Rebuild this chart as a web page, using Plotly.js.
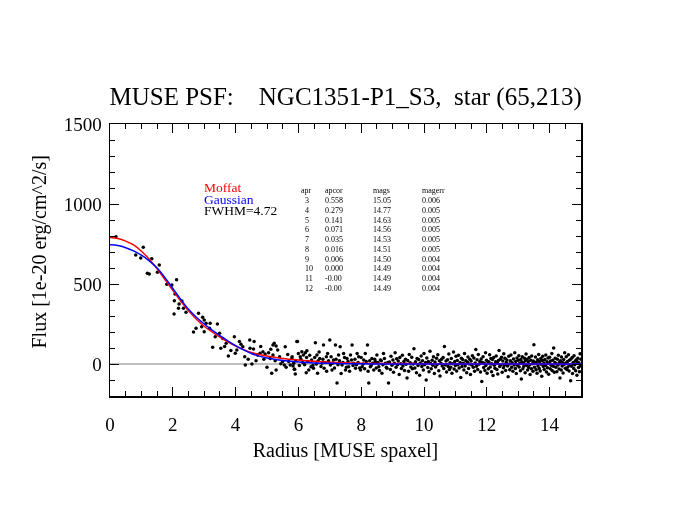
<!DOCTYPE html>
<html>
<head>
<meta charset="utf-8">
<script src="https://cdn.plot.ly/plotly-3.0.1.min.js"></script>
<style>
html,body{margin:0;padding:0;background:#fff;}
#chart{width:675px;height:521px;will-change:transform;}
#chart g.annotation{opacity:0.999;}
</style>
</head>
<body>
<div id="chart"></div>
<script>
// ---- data: inner profile samples [radius, flux] ----
const coreSamples = [
[0.19,796],[0.82,681],[0.98,662],[1.06,729],[1.33,658],[1.19,567],[1.25,562],[1.57,619],[1.51,573],[1.81,498],
[1.97,494],[2.12,527],[2.07,437],[2.05,396],[2.2,375],[2.29,394],[2.18,348],[2.34,348],[2.42,323],[2.04,312],
[2.82,317],[2.95,292],[2.74,223],[2.66,200],[2.92,233],[3.0,275],[3.06,254],[3.0,202],[3.19,254],[3.17,223],
[3.42,250],[3.35,171],[3.49,192],[3.59,160],[3.27,104],[3.53,98],[3.96,171],[4.12,140],[4.17,123],[4.04,88],
[3.99,67],[3.77,50],[4.29,46],[4.23,108],[4.31,-6],[4.45,150],[4.59,140],[4.46,98],[4.57,94],[4.52,0],
[4.7,56],[4.78,67],[4.87,77],[4.94,62],[5.05,71],[5.12,92],[5.19,119],[5.23,129],[5.29,113],[5.34,88],
[5.19,56],[5.1,35],[5.26,21],[5.4,46],[5.29,-38],[5.15,-58],[5.44,2],[5.5,15],[5.55,-6],[5.61,-21],
[5.69,15],[5.74,-6],[5.83,-13],[5.88,-33],[5.95,140],[5.58,108],[5.66,60],[3.7,130],[3.85,85],[4.4,30],
[4.65,20],[4.9,30],[5.0,-20],[4.8,110],[3.65,110]
];
// ---- data: middle profile samples [radius, flux] ----
const midSamples = [
[5.79,35],[5.85,4],[5.87,-33],[5.9,-63],[5.97,140],[6.0,65],[6.06,46],[6.11,77],[6.16,56],[6.22,71],
[6.27,83],[6.25,-54],[6.33,-38],[6.4,-17],[6.48,-27],[6.54,133],[6.59,56],[6.61,-58],[6.68,35],[6.75,4],
[6.8,119],[6.82,-27],[6.89,46],[6.93,65],[7.0,150],[7.02,-6],[7.07,-38],[7.12,25],[7.18,119],[7.23,-119],
[7.28,56],[7.33,108],[7.39,-6],[7.44,65],[7.5,-38],[7.55,35],[7.6,-17],[7.66,56],[7.71,119],[7.76,4],
[7.82,-27],[7.87,65],[7.92,46],[7.98,-38],[8.03,-17],[8.08,25],[8.13,65],[8.2,119],[8.24,-119],[8.29,-17],
[8.34,35],[8.4,-38],[8.45,15],[8.5,56],[8.56,-17],[8.61,25],[8.66,-58],[8.71,65],[8.77,4],[8.82,-27],
[8.87,-119],[5.8,45],[5.92,20],[6.03,-10],[6.08,30],[6.14,10],[6.2,-5],[6.26,40],[6.3,15],[6.36,55],
[6.42,25],[6.46,-10],[6.52,40],[6.57,0],[6.63,20],[6.66,75],[6.72,-15],[6.78,30],[6.85,10],[6.9,-45],
[6.96,20],[7.04,45],[7.09,5],[7.15,-25],[7.2,30],[7.26,-5],[7.31,20],[7.36,-60],[7.42,10],[7.47,40],
[7.53,-20],[7.58,15],[7.63,-45],[7.69,25],[7.74,-10],[7.8,30],[7.85,-5],[7.9,10],[7.95,-25],[8.0,40],
[8.06,0],[8.11,-30],[8.16,15],[8.22,-45],[8.27,20],[8.32,-10],[8.37,5],[8.43,30],[8.48,-25],[8.53,10],
[8.58,-40],[8.64,20],[8.69,-5],[8.74,35],[8.8,-20],[8.85,10]
];
// ---- data: outer profile (radius and flux) ----
const tailRadius = [
8.90,8.93,8.95,8.98,9.01,9.03,9.06,9.08,9.11,9.13,
9.16,9.18,9.21,9.23,9.26,9.28,9.31,9.33,9.36,9.38,
9.41,9.43,9.46,9.48,9.51,9.53,9.56,9.58,9.61,9.63,
9.66,9.68,9.71,9.73,9.76,9.78,9.81,9.83,9.86,9.88,
9.91,9.93,9.95,9.98,10.00,10.02,10.05,10.07,10.09,10.12,
10.14,10.16,10.19,10.21,10.23,10.26,10.28,10.30,10.33,10.35,
10.37,10.40,10.42,10.44,10.47,10.49,10.51,10.54,10.56,10.58,
10.61,10.63,10.65,10.68,10.70,10.72,10.75,10.77,10.79,10.81,
10.83,10.85,10.87,10.89,10.91,10.94,10.96,10.98,11.00,11.02,
11.04,11.06,11.08,11.10,11.12,11.15,11.17,11.19,11.21,11.23,
11.25,11.27,11.29,11.31,11.33,11.36,11.38,11.40,11.42,11.44,
11.46,11.48,11.50,11.52,11.54,11.57,11.59,11.61,11.63,11.65,
11.67,11.69,11.71,11.73,11.75,11.78,11.80,11.82,11.84,11.86,
11.88,11.90,11.92,11.94,11.96,11.97,11.99,12.01,12.03,12.05,
12.07,12.09,12.11,12.13,12.15,12.16,12.18,12.20,12.22,12.24,
12.26,12.28,12.30,12.32,12.34,12.35,12.37,12.39,12.41,12.43,
12.45,12.47,12.49,12.51,12.53,12.54,12.56,12.58,12.60,12.62,
12.64,12.66,12.68,12.70,12.72,12.73,12.75,12.77,12.79,12.81,
12.83,12.85,12.87,12.89,12.91,12.92,12.94,12.96,12.98,13.00,
13.02,13.03,13.05,13.07,13.08,13.10,13.12,13.13,13.15,13.17,
13.18,13.20,13.22,13.23,13.25,13.27,13.28,13.30,13.32,13.33,
13.35,13.37,13.38,13.40,13.42,13.43,13.45,13.47,13.48,13.50,
13.52,13.53,13.55,13.57,13.58,13.60,13.62,13.63,13.65,13.67,
13.68,13.70,13.72,13.73,13.75,13.77,13.78,13.80,13.82,13.83,
13.85,13.87,13.88,13.90,13.92,13.93,13.95,13.97,13.98,14.00,
14.02,14.03,14.05,14.07,14.08,14.10,14.12,14.13,14.15,14.17,
14.18,14.20,14.22,14.23,14.25,14.27,14.28,14.30,14.32,14.33,
14.35,14.37,14.38,14.40,14.42,14.43,14.45,14.47,14.48,14.50,
14.52,14.53,14.55,14.57,14.58,14.60,14.62,14.63,14.65,14.67,
14.68,14.70,14.72,14.73,14.75,14.77,14.78,14.80,14.82,14.83,
14.85,14.87,14.88,14.90,14.92,14.93,14.95,14.97,14.98,15.00
];
const tailFlux = [
12,-35,48,-8,25,-52,5,70,-20,33,
-5,18,-65,40,2,-28,55,-12,15,-40,
30,-2,-88,22,-45,60,8,-18,42,-30,
0,95,-25,14,-55,35,-10,28,-70,6,
50,-15,20,-38,65,-5,10,-100,38,-22,
16,-48,80,3,-30,24,-8,45,-60,12,
-18,36,-3,58,-42,20,-75,5,30,-12,
40,-28,110,-6,18,-50,26,-15,62,-35,
8,-20,34,-58,2,75,-32,15,-9,48,
-44,22,-4,54,-25,10,-85,36,-16,28,
4,-38,66,-12,20,-55,12,44,-28,0,
30,-65,18,-6,52,-20,38,-45,7,90,
-14,26,-35,60,-2,15,-50,32,-110,10,
45,-22,5,-40,70,-10,24,-58,16,-30,
12,58,-18,35,-48,2,28,-72,40,-8,
-26,14,50,-34,6,-62,22,84,-15,30,
-4,42,-52,18,-24,64,-8,36,-40,10,
25,-12,-80,48,0,-36,20,56,-20,8,
-45,32,-6,70,-28,15,-60,38,-10,24,
52,-18,4,-42,28,-94,12,46,-30,6,
-14,36,-55,20,62,-8,30,-38,14,-22,
40,-4,-66,24,-30,50,2,-46,18,120,
-20,8,44,-36,12,-58,26,-12,60,-28,
16,-44,34,-2,-76,22,48,-16,6,-34,
28,-10,56,-50,14,-24,38,-64,4,42,
-30,18,-8,66,-40,24,-14,100,-52,10,
36,-20,2,-48,30,-6,54,-32,12,-88,
20,-38,44,-12,8,-56,28,-2,70,-26,
6,46,-34,16,-18,58,-44,24,-8,-105,
32,-14,40,-60,10,-28,52,-4,18,-42,
26,-70,14,36,-22,8,-48,64,-12,30
];
// ---- data: fitted model curves ----
const curveRadius = [0,0.25,0.5,0.75,1,1.25,1.5,1.75,2,2.25,2.5,2.75,3,3.25,3.5,3.75,4,4.5,5,5.5,6,6.5,7,8,9,10,11,12,13,14,15];
const moffatFlux  = [790,784,768,744,705,655,595,528,460,394,332,280,236,200,168,138,112,72,50,35,25,17,11,5,3,2,1,1,0.5,0.5,0];
const gaussFlux   = [745,740,727,707,680,645,600,540,472,405,342,292,250,212,178,145,115,66,37,22,13,7,4,1,0,0,0,0,0,0,0];
const zeroX = [0,15];
const zeroY = [0,0];
// ---- data: labels / table ----
const titleText = 'MUSE PSF:\u00A0\u00A0\u00A0\u00A0NGC1351-P1_S3,\u00A0\u00A0star (65,213)';
const xTitleText = 'Radius [MUSE spaxel]';
const yTitleText = 'Flux [1e-20 erg/cm^2/s]';
const legendLabels = ['Moffat','Gaussian','FWHM=4.72'];
const tableHeader = ['apr','apcor','mags','magerr'];
const aprValues   = ['3','4','5','6','7','8','9','10','11','12'];
const apcorValues = ['0.558','0.279','0.141','0.071','0.035','0.016','0.006','0.000','-0.00','-0.00'];
const magsValues  = ['15.05','14.77','14.63','14.56','14.53','14.51','14.50','14.49','14.49','14.49'];
const magerrValues= ['0.006','0.005','0.005','0.005','0.005','0.005','0.004','0.004','0.004','0.004'];

const allSamples = coreSamples.concat(midSamples);
const radius = allSamples.map(p => p[0]).concat(tailRadius);
const flux = allSamples.map(p => p[1]).concat(tailFlux);

const serif = 'Liberation Serif, Times New Roman, serif';

const traces = [
  {x: zeroX, y: zeroY, mode: 'lines', line: {color: '#808080', width: 1}, hoverinfo: 'skip'},
  {x: radius, y: flux, mode: 'markers', marker: {color: '#000', size: 3.5}},
  {x: curveRadius, y: moffatFlux, mode: 'lines', line: {color: '#ff0000', width: 1.5, shape: 'spline'}},
  {x: curveRadius, y: gaussFlux, mode: 'lines', line: {color: '#0000ff', width: 1.5, shape: 'spline'}}
];

const annotations = [];
// y-axis title, placed as in the reference (slightly above the plot centre)
annotations.push({
  x: (38.5 - 110) / 471, y: (396 - 252) / 272, xref: 'paper', yref: 'paper', text: yTitleText,
  textangle: -90, showarrow: false, xanchor: 'center', yanchor: 'middle', borderpad: 0,
  font: {family: serif, size: 20, color: '#000'}
});
const legendColors = ['#ff0000','#0000ff','#000000'];
const legendY = [1103, 1030, 957];
legendLabels.forEach((t, i) => annotations.push({
  x: 2.96, y: legendY[i], xref: 'x', yref: 'y', text: t, showarrow: false,
  xanchor: 'left', yanchor: 'middle', borderpad: 0, font: {family: serif, size: 13.5, color: legendColors[i]}
}));
const colX = [6.05, 6.83, 8.33, 9.89];
const valX = [6.18, 6.83, 8.33, 9.89];
tableHeader.forEach((t, i) => annotations.push({
  x: colX[i], y: 1087, xref: 'x', yref: 'y', text: t, showarrow: false,
  xanchor: 'left', yanchor: 'middle', borderpad: 0, font: {family: serif, size: 8, color: '#000'}
}));
const cols = [aprValues, apcorValues, magsValues, magerrValues];
cols.forEach((col, c) => col.forEach((t, r) => annotations.push({
  x: valX[c], y: 1020 - 60.8 * r, xref: 'x', yref: 'y', text: t, showarrow: false,
  xanchor: 'left', yanchor: 'middle', borderpad: 0, font: {family: serif, size: 8, color: '#000'}
})));

const axisCommon = {
  showline: true, linecolor: '#000', linewidth: 1.5, mirror: 'ticks',
  ticks: 'inside', ticklen: 9, tickwidth: 1, tickcolor: '#000',
  showgrid: false, zeroline: false,
  tickfont: {family: serif, size: 19, color: '#000'}
};

const layout = {
  width: 675, height: 521,
  margin: {l: 110, r: 94, t: 124, b: 125},
  paper_bgcolor: '#fff', plot_bgcolor: '#fff',
  showlegend: false,
  title: {text: titleText, font: {family: serif, size: 25, color: '#000'},
          xref: 'container', x: 0.512, xanchor: 'center', yref: 'container', y: 1 - 96/521, yanchor: 'middle'},
  xaxis: Object.assign({}, axisCommon, {
    range: [0, 15], tickmode: 'linear', tick0: 0, dtick: 2, ticklabelstandoff: 11,
    minor: {ticks: 'inside', ticklen: 5, tickwidth: 1, tickcolor: '#000', dtick: 0.5, tick0: 0, showgrid: false},
    title: {text: xTitleText, font: {family: serif, size: 20, color: '#000'}, standoff: 8}
  }),
  yaxis: Object.assign({}, axisCommon, {
    range: [-200, 1500], tickmode: 'linear', tick0: 0, dtick: 500, ticklabelstandoff: 3,
    minor: {ticks: 'inside', ticklen: 5, tickwidth: 1, tickcolor: '#000', dtick: 100, tick0: 0, showgrid: false}
  }),
  annotations: annotations
};

Plotly.newPlot('chart', traces, layout, {displayModeBar: false, staticPlot: true});
</script>
</body>
</html>
